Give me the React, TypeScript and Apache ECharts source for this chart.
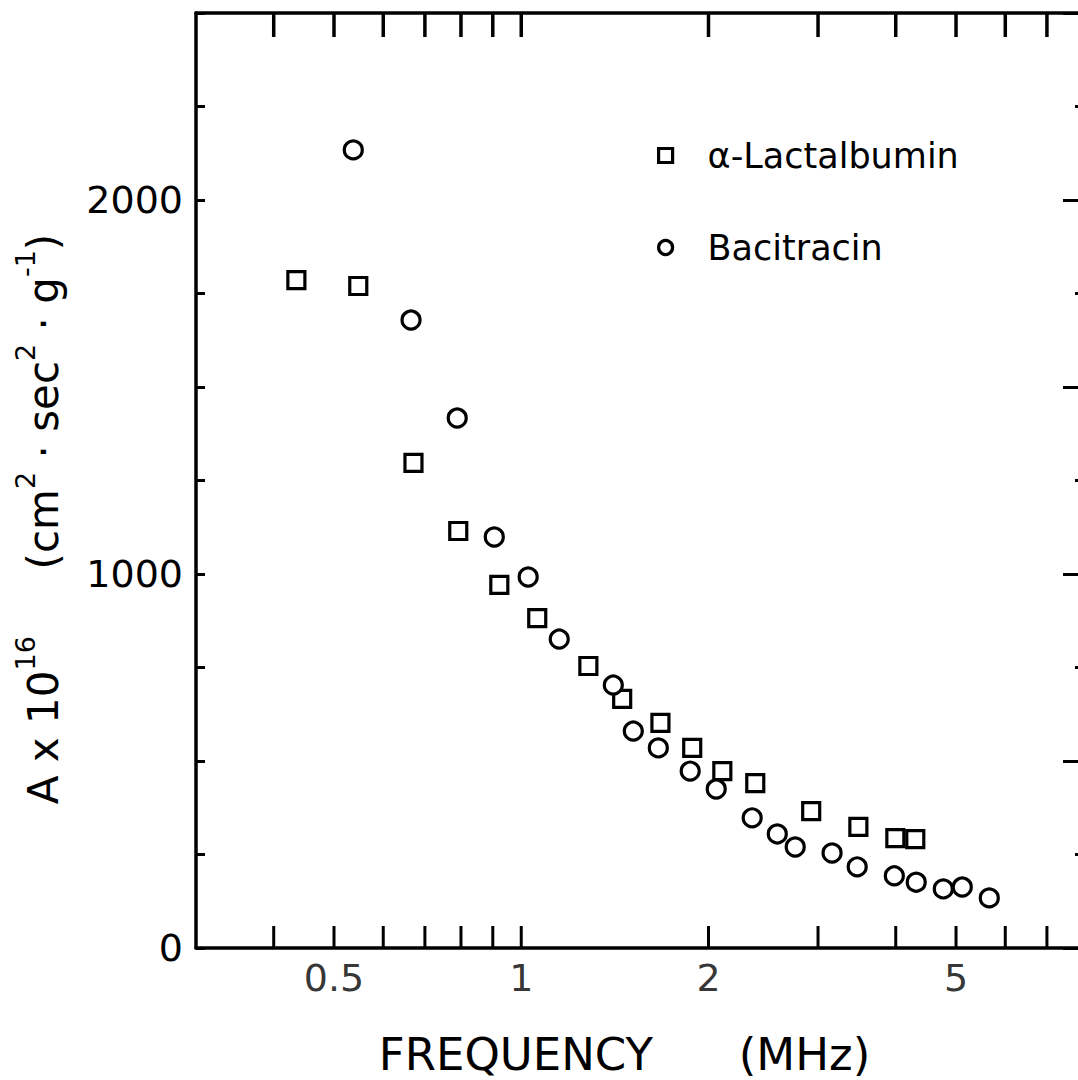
import React, { useEffect, useRef } from 'react';
import * as echarts from 'echarts';

const FONT = 'DejaVu Sans';

const LACT_NAME = 'α-Lactalbumin';
const BACI_NAME = 'Bacitracin';

// α-Lactalbumin (squares): frequency (MHz) and A x 10^16
const lactFreq = [0.435, 0.547, 0.671, 0.792, 0.922, 1.061, 1.282, 1.453, 1.674, 1.883, 2.105, 2.378, 2.925, 3.483, 3.994, 4.30];
const lactA = [1786, 1770, 1297, 1115, 971, 882, 754, 666, 602, 535, 473, 441, 366, 324, 294, 291];

// Bacitracin (circles)
const baciFreq = [0.537, 0.665, 0.789, 0.905, 1.026, 1.151, 1.406, 1.514, 1.661, 1.869, 2.058, 2.351, 2.58, 2.757, 3.16, 3.468, 3.979, 4.315, 4.77, 5.117, 5.655];
const baciA = [2134, 1679, 1417, 1099, 992, 826, 703, 580, 535, 473, 425, 348, 305, 270, 254, 217, 193, 176, 158, 163, 134];

// Axis ticks / labels
const xTickValues = [0.4, 0.5, 0.6, 0.7, 0.8, 0.9, 1, 2, 3, 4, 5, 6, 7];
const xLabelValues = [0.5, 1, 2, 5];
const yLabelValues = [0, 1000, 2000];
const X_MIN = 0.3;
const X_MAX = 8;
const Y_MIN = 0;
const Y_MAX = 2500;
const Y_STEP = 250;
const Y_MAJOR_STEP = 500;

export default function App() {
  const ref = useRef<HTMLDivElement>(null);

  useEffect(() => {
    if (!ref.current) return;
    const chart = echarts.init(ref.current, null, { renderer: 'svg' });

    const markerStyle = { color: '#fff', borderColor: '#000', borderWidth: 3.2, opacity: 1 };
    const axisLineStyle = { color: '#000', width: 3.5 };

    const option: any = {
      animation: false,
      backgroundColor: '#fff',
      textStyle: { fontFamily: FONT, color: '#000' },
      grid: { left: 196, top: 13, width: 887, bottom: 132, containLabel: false, outerBoundsMode: 'none' },
      legend: {
        data: [
          { name: LACT_NAME, icon: 'rect', itemStyle: markerStyle },
          { name: BACI_NAME, icon: 'circle', itemStyle: markerStyle },
        ],
        orient: 'vertical',
        left: 652,
        top: 133,
        itemWidth: 14,
        itemHeight: 14,
        itemGap: 57,
        selectedMode: false,
        textStyle: { fontSize: 35, color: '#000', fontFamily: FONT, padding: [0, 0, 0, 30] },
      },
      xAxis: [
        {
          type: 'log',
          logBase: 10,
          min: X_MIN,
          max: X_MAX,
          position: 'bottom',
          axisLine: { show: true, onZero: false, lineStyle: axisLineStyle },
          axisTick: { show: false },
          axisLabel: { show: false },
          splitLine: { show: false },
          minorTick: { show: false },
          name: 'FREQUENCY      (MHz)',
          nameLocation: 'middle',
          nameGap: 86,
          nameTextStyle: { fontSize: 45, lineHeight: 40, color: '#000', fontFamily: FONT, padding: [0, 30, 0, 0] },
        },
        {
          type: 'log',
          logBase: 10,
          min: X_MIN,
          max: X_MAX,
          position: 'top',
          axisLine: { show: true, onZero: false, lineStyle: axisLineStyle },
          axisTick: { show: false },
          axisLabel: { show: false },
          splitLine: { show: false },
        },
      ],
      yAxis: [
        {
          type: 'value',
          min: Y_MIN,
          max: Y_MAX,
          interval: Y_STEP,
          position: 'left',
          axisLine: { show: true, onZero: false, lineStyle: axisLineStyle },
          axisTick: { show: true, inside: true, length: 9, lineStyle: { color: '#000', width: 3 } },
          axisLabel: {
            show: true,
            margin: 13,
            fontSize: 38,
            color: '#000',
            fontFamily: FONT,
            formatter: (v: number) => (yLabelValues.indexOf(v) >= 0 ? String(v) : ''),
          },
          splitLine: { show: false },
        },
        {
          type: 'value',
          min: Y_MIN,
          max: Y_MAX,
          interval: Y_MAJOR_STEP,
          position: 'right',
          axisLine: { show: true, onZero: false, lineStyle: axisLineStyle },
          axisTick: { show: true, inside: true, length: 20, lineStyle: { color: '#000', width: 3 } },
          minorTick: { show: true, splitNumber: 2, length: 8, lineStyle: { color: '#000', width: 3 } },
          axisLabel: { show: false },
          splitLine: { show: false },
        },
      ],
      graphic: [
        {
          type: 'text',
          x: 38,
          y: 519,
          rotation: Math.PI / 2,
          style: {
            text: '{n|A x 10}{s|16}{n|     (cm}{s|2}{n| · sec}{s|2}{n| · g}{s|-1}{n|)}',
            align: 'center',
            verticalAlign: 'middle',
            rich: {
              n: { fontSize: 42, fontFamily: FONT, fill: '#000', verticalAlign: 'bottom', lineHeight: 52 },
              s: { fontSize: 27, fontFamily: FONT, fill: '#000', verticalAlign: 'top' },
            },
          },
        },
      ],
      series: [
        {
          name: LACT_NAME,
          type: 'scatter',
          symbol: 'rect',
          symbolSize: 17,
          itemStyle: markerStyle,
          data: lactFreq.map((f, i) => [f, lactA[i]]),
          z: 5,
        },
        {
          name: BACI_NAME,
          type: 'scatter',
          symbol: 'circle',
          symbolSize: 18,
          itemStyle: markerStyle,
          data: baciFreq.map((f, i) => [f, baciA[i]]),
          z: 5,
        },
        {
          name: 'bottomTicks',
          type: 'scatter',
          silent: true,
          clip: false,
          symbol: 'rect',
          symbolSize: [3, 22],
          symbolOffset: [0, '-50%'],
          itemStyle: { color: '#000', opacity: 1 },
          data: xTickValues.map((v) => [v, Y_MIN]),
          z: 4,
        },
        {
          name: 'topTicks',
          type: 'scatter',
          silent: true,
          clip: false,
          symbol: 'rect',
          symbolSize: [3.5, 24],
          symbolOffset: [0, '50%'],
          itemStyle: { color: '#000', opacity: 1 },
          data: xTickValues.map((v) => [v, Y_MAX]),
          z: 4,
        },
        {
          name: 'xLabels',
          type: 'scatter',
          silent: true,
          clip: false,
          symbolSize: 1,
          itemStyle: { color: 'rgba(0,0,0,0)' },
          label: {
            show: true,
            position: 'bottom',
            distance: 10,
            fontSize: 38,
            color: '#000',
            fontFamily: FONT,
            formatter: (p: any) => String(p.value[0]),
          },
          data: xLabelValues.map((v) => [v, Y_MIN]),
          z: 4,
        },
      ],
    };

    chart.setOption(option);
    return () => {
      chart.dispose();
    };
  }, []);

  return (
    <div
      ref={ref}
      style={{ position: 'fixed', left: 0, top: 0, width: 1078, height: 1080, background: '#fff' }}
    />
  );
}
